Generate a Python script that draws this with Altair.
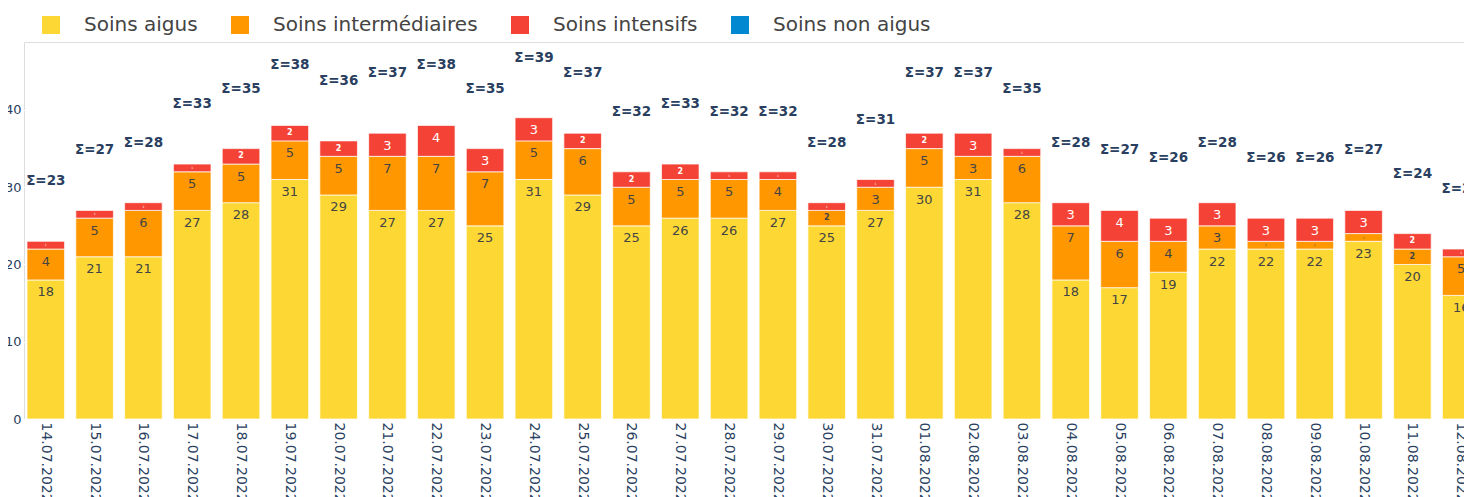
import altair as alt
import pandas as pd

dates = ["14.07.2022", "15.07.2022", "16.07.2022", "17.07.2022", "18.07.2022",
         "19.07.2022", "20.07.2022", "21.07.2022", "22.07.2022", "23.07.2022",
         "24.07.2022", "25.07.2022", "26.07.2022", "27.07.2022", "28.07.2022",
         "29.07.2022", "30.07.2022", "31.07.2022", "01.08.2022", "02.08.2022",
         "03.08.2022", "04.08.2022", "05.08.2022", "06.08.2022", "07.08.2022",
         "08.08.2022", "09.08.2022", "10.08.2022", "11.08.2022", "12.08.2022"]

categories = ["Soins aigus", "Soins intermédiaires", "Soins intensifs", "Soins non aigus"]
colors = ["#FDD835", "#FF9800", "#F44336", "#0288D1"]

aigus = [18, 21, 21, 27, 28, 31, 29, 27, 27, 25, 31, 29, 25, 26, 26, 27, 25, 27, 30, 31,
         28, 18, 17, 19, 22, 22, 22, 23, 20, 16]
intermediaires = [4, 5, 6, 5, 5, 5, 5, 7, 7, 7, 5, 6, 5, 5, 5, 4, 2, 3, 5, 3,
                  6, 7, 6, 4, 3, 1, 1, 1, 2, 5]
intensifs = [1, 1, 1, 1, 2, 2, 2, 3, 4, 3, 3, 2, 2, 2, 1, 1, 1, 1, 2, 3,
             1, 3, 4, 3, 3, 3, 3, 3, 2, 1]
non_aigus = [0] * 30

series = [aigus, intermediaires, intensifs, non_aigus]
rows = []
for ci, (cat, vals) in enumerate(zip(categories, series)):
    for d, v in zip(dates, vals):
        rows.append({"date": d, "cat": cat, "ord": ci, "value": v})
df = pd.DataFrame(rows)

FONT = "DejaVu Sans"
TXT = "#2a3f5f"

x_enc = alt.X("date:N", sort=dates,
              scale=alt.Scale(range=[-3, 1462], paddingInner=0.23, paddingOuter=0.123),
              axis=alt.Axis(title=None, labelAngle=90, labelFontSize=14, labelColor=TXT,
                            labelPadding=3, ticks=False, domain=False, grid=False,
                            labelOverlap=False, labelFont=FONT))
y_scale = alt.Scale(domain=[0, 48.8], nice=False, zero=True)

base = alt.Chart(df).transform_stack(
    stack="value", groupby=["date"], as_=["y0", "y1"],
    sort=[alt.SortField("ord", order="ascending")]
)

bars = base.transform_filter(alt.datum.value > 0).mark_bar(
    stroke="white", strokeWidth=1, strokeOpacity=0.7
).encode(
    x=x_enc,
    y=alt.Y("y0:Q", scale=y_scale,
            axis=alt.Axis(title=None, values=[0, 10, 20, 30, 40], domain=False, ticks=False,
                          labelFontSize=13, labelColor=TXT, labelPadding=3,
                          gridColor="white", gridWidth=1, labelFont=FONT)),
    y2="y1:Q",
    color=alt.Color("cat:N", scale=alt.Scale(domain=categories, range=colors),
                    legend=alt.Legend(title=None, orient="none", legendX=17, legendY=-27,
                                      direction="horizontal", columns=4,
                                      symbolType="square", symbolSize=324,
                                      symbolStrokeWidth=0, symbolOpacity=1,
                                      labelFontSize=20, labelColor="#444",
                                      labelFont=FONT, labelOffset=23,
                                      columnPadding=32, padding=0, labelLimit=400)),
)

txt_color = alt.condition(alt.datum.cat == "Soins intensifs", alt.value("white"), alt.value("#444"))

text_big = base.transform_filter(alt.datum.value >= 3).mark_text(
    baseline="middle", align="center", dy=12.5, fontSize=13, font=FONT
).encode(
    x=x_enc,
    y=alt.Y("y1:Q", scale=y_scale),
    text=alt.Text("value:Q"),
    color=txt_color,
)

text_two = base.transform_filter(alt.datum.value == 2).transform_calculate(
    mid="(datum.y0 + datum.y1) / 2"
).mark_text(baseline="middle", align="center", fontSize=8, font=FONT, fontWeight="bold").encode(
    x=x_enc,
    y=alt.Y("mid:Q", scale=y_scale),
    text=alt.Text("value:Q"),
    color=txt_color,
)

text_one = base.transform_filter(alt.datum.value == 1).transform_calculate(
    mid="(datum.y0 + datum.y1) / 2"
).mark_text(baseline="middle", align="center", fontSize=3, font=FONT).encode(
    x=x_enc,
    y=alt.Y("mid:Q", scale=y_scale),
    text=alt.Text("value:Q"),
    color=txt_color,
)

totals = alt.Chart(df).transform_aggregate(
    total="sum(value)", groupby=["date"]
).transform_calculate(
    label="'Σ=' + datum.total"
).mark_text(baseline="middle", align="center", dy=-60, fontSize=13.5,
            fontWeight="bold", font=FONT, color=TXT).encode(
    x=x_enc,
    y=alt.Y("total:Q", scale=y_scale),
    text="label:N",
)

chart = alt.layer(bars, text_big, text_two, text_one, totals).properties(
    width=1440, height=377,
    autosize=alt.AutoSizeParams(type="none"),
    padding={"left": 16, "top": 34, "right": 0, "bottom": 78},
).configure_view(fill="#E5ECF6", stroke="transparent", strokeWidth=0).configure(font=FONT)

chart.save("out.html", embed_options={"renderer": "svg", "actions": False})
